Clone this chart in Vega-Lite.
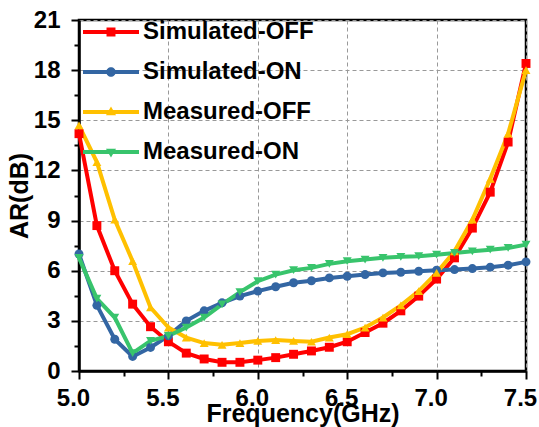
{
  "$schema": "https://vega.github.io/schema/vega-lite/v6.json",
  "width": 447,
  "height": 351,
  "autosize": "none",
  "padding": {"left": 79, "top": 20, "right": 13, "bottom": 56},
  "background": "white",
  "data": {"values": [
    {"f":5.0,"ar":14.2,"s":"Simulated-OFF"},{"f":5.1,"ar":8.7,"s":"Simulated-OFF"},{"f":5.2,"ar":6.0,"s":"Simulated-OFF"},{"f":5.3,"ar":4.0,"s":"Simulated-OFF"},{"f":5.4,"ar":2.65,"s":"Simulated-OFF"},{"f":5.5,"ar":1.75,"s":"Simulated-OFF"},{"f":5.6,"ar":1.07,"s":"Simulated-OFF"},{"f":5.7,"ar":0.72,"s":"Simulated-OFF"},{"f":5.8,"ar":0.52,"s":"Simulated-OFF"},{"f":5.9,"ar":0.52,"s":"Simulated-OFF"},{"f":6.0,"ar":0.65,"s":"Simulated-OFF"},{"f":6.1,"ar":0.8,"s":"Simulated-OFF"},{"f":6.2,"ar":1.0,"s":"Simulated-OFF"},{"f":6.3,"ar":1.2,"s":"Simulated-OFF"},{"f":6.4,"ar":1.42,"s":"Simulated-OFF"},{"f":6.5,"ar":1.75,"s":"Simulated-OFF"},{"f":6.6,"ar":2.3,"s":"Simulated-OFF"},{"f":6.7,"ar":2.86,"s":"Simulated-OFF"},{"f":6.8,"ar":3.6,"s":"Simulated-OFF"},{"f":6.9,"ar":4.48,"s":"Simulated-OFF"},{"f":7.0,"ar":5.5,"s":"Simulated-OFF"},{"f":7.1,"ar":6.77,"s":"Simulated-OFF"},{"f":7.2,"ar":8.55,"s":"Simulated-OFF"},{"f":7.3,"ar":10.7,"s":"Simulated-OFF"},{"f":7.4,"ar":13.7,"s":"Simulated-OFF"},{"f":7.5,"ar":18.4,"s":"Simulated-OFF"},
    {"f":5.0,"ar":7.0,"s":"Simulated-ON"},{"f":5.1,"ar":3.93,"s":"Simulated-ON"},{"f":5.2,"ar":1.9,"s":"Simulated-ON"},{"f":5.3,"ar":0.87,"s":"Simulated-ON"},{"f":5.4,"ar":1.41,"s":"Simulated-ON"},{"f":5.5,"ar":2.1,"s":"Simulated-ON"},{"f":5.6,"ar":3.0,"s":"Simulated-ON"},{"f":5.7,"ar":3.6,"s":"Simulated-ON"},{"f":5.8,"ar":4.08,"s":"Simulated-ON"},{"f":5.9,"ar":4.48,"s":"Simulated-ON"},{"f":6.0,"ar":4.78,"s":"Simulated-ON"},{"f":6.1,"ar":5.04,"s":"Simulated-ON"},{"f":6.2,"ar":5.28,"s":"Simulated-ON"},{"f":6.3,"ar":5.4,"s":"Simulated-ON"},{"f":6.4,"ar":5.57,"s":"Simulated-ON"},{"f":6.5,"ar":5.67,"s":"Simulated-ON"},{"f":6.6,"ar":5.77,"s":"Simulated-ON"},{"f":6.7,"ar":5.87,"s":"Simulated-ON"},{"f":6.8,"ar":5.91,"s":"Simulated-ON"},{"f":6.9,"ar":5.97,"s":"Simulated-ON"},{"f":7.0,"ar":6.03,"s":"Simulated-ON"},{"f":7.1,"ar":6.07,"s":"Simulated-ON"},{"f":7.2,"ar":6.13,"s":"Simulated-ON"},{"f":7.3,"ar":6.21,"s":"Simulated-ON"},{"f":7.4,"ar":6.33,"s":"Simulated-ON"},{"f":7.5,"ar":6.53,"s":"Simulated-ON"},
    {"f":5.0,"ar":14.7,"s":"Measured-OFF"},{"f":5.1,"ar":12.5,"s":"Measured-OFF"},{"f":5.2,"ar":9.05,"s":"Measured-OFF"},{"f":5.3,"ar":6.57,"s":"Measured-OFF"},{"f":5.4,"ar":3.8,"s":"Measured-OFF"},{"f":5.5,"ar":2.6,"s":"Measured-OFF"},{"f":5.6,"ar":2.0,"s":"Measured-OFF"},{"f":5.7,"ar":1.67,"s":"Measured-OFF"},{"f":5.8,"ar":1.57,"s":"Measured-OFF"},{"f":5.9,"ar":1.67,"s":"Measured-OFF"},{"f":6.0,"ar":1.8,"s":"Measured-OFF"},{"f":6.1,"ar":1.85,"s":"Measured-OFF"},{"f":6.2,"ar":1.8,"s":"Measured-OFF"},{"f":6.3,"ar":1.75,"s":"Measured-OFF"},{"f":6.4,"ar":2.0,"s":"Measured-OFF"},{"f":6.5,"ar":2.2,"s":"Measured-OFF"},{"f":6.6,"ar":2.6,"s":"Measured-OFF"},{"f":6.7,"ar":3.2,"s":"Measured-OFF"},{"f":6.8,"ar":3.93,"s":"Measured-OFF"},{"f":6.9,"ar":4.78,"s":"Measured-OFF"},{"f":7.0,"ar":5.87,"s":"Measured-OFF"},{"f":7.1,"ar":7.16,"s":"Measured-OFF"},{"f":7.2,"ar":9.05,"s":"Measured-OFF"},{"f":7.3,"ar":11.5,"s":"Measured-OFF"},{"f":7.4,"ar":14.2,"s":"Measured-OFF"},{"f":7.5,"ar":18.0,"s":"Measured-OFF"},
    {"f":5.0,"ar":6.77,"s":"Measured-ON"},{"f":5.1,"ar":4.33,"s":"Measured-ON"},{"f":5.2,"ar":3.2,"s":"Measured-ON"},{"f":5.3,"ar":1.07,"s":"Measured-ON"},{"f":5.4,"ar":1.8,"s":"Measured-ON"},{"f":5.5,"ar":2.1,"s":"Measured-ON"},{"f":5.6,"ar":2.6,"s":"Measured-ON"},{"f":5.7,"ar":3.2,"s":"Measured-ON"},{"f":5.8,"ar":3.99,"s":"Measured-ON"},{"f":5.9,"ar":4.72,"s":"Measured-ON"},{"f":6.0,"ar":5.37,"s":"Measured-ON"},{"f":6.1,"ar":5.77,"s":"Measured-ON"},{"f":6.2,"ar":6.03,"s":"Measured-ON"},{"f":6.3,"ar":6.17,"s":"Measured-ON"},{"f":6.4,"ar":6.41,"s":"Measured-ON"},{"f":6.5,"ar":6.57,"s":"Measured-ON"},{"f":6.6,"ar":6.67,"s":"Measured-ON"},{"f":6.7,"ar":6.77,"s":"Measured-ON"},{"f":6.8,"ar":6.83,"s":"Measured-ON"},{"f":6.9,"ar":6.87,"s":"Measured-ON"},{"f":7.0,"ar":6.96,"s":"Measured-ON"},{"f":7.1,"ar":7.06,"s":"Measured-ON"},{"f":7.2,"ar":7.16,"s":"Measured-ON"},{"f":7.3,"ar":7.26,"s":"Measured-ON"},{"f":7.4,"ar":7.36,"s":"Measured-ON"},{"f":7.5,"ar":7.56,"s":"Measured-ON"}
  ]},
  "encoding": {
    "x": {"field": "f", "type": "quantitative",
      "scale": {"domain": [5, 7.5], "nice": false, "zero": false},
      "axis": {"title": "Frequency(GHz)", "values": [5,5.25,5.5,5.75,6,6.25,6.5,6.75,7,7.25,7.5],
        "labelExpr": "abs(datum.value*2 - round(datum.value*2)) < 0.001 ? format(datum.value, '.1f') : ''",
        "tickSize": {"condition": {"test": "abs(datum.value*2 - round(datum.value*2)) < 0.001", "value": 8}, "value": 5},
        "gridOpacity": {"condition": {"test": "abs(datum.value*2 - round(datum.value*2)) < 0.001", "value": 1}, "value": 0},
        "labelOffset": -6, "labelPadding": 7, "titlePadding": -9, "labelFlush": false}},
    "y": {"field": "ar", "type": "quantitative",
      "scale": {"domain": [0, 21], "nice": false},
      "axis": {"title": "AR(dB)", "values": [0,1.5,3,4.5,6,7.5,9,10.5,12,13.5,15,16.5,18,19.5,21],
        "labelExpr": "datum.value % 3 == 0 ? datum.label : ''",
        "tickSize": {"condition": {"test": "datum.value % 3 == 0", "value": 8}, "value": 5},
        "gridOpacity": {"condition": {"test": "datum.value % 3 == 0", "value": 1}, "value": 0},
        "labelPadding": 11, "titlePadding": 1, "labelFlush": false}}
  },
  "layer": [
    {"mark": {"type": "line", "strokeWidth": 4},
     "encoding": {"color": {"field": "s", "type": "nominal",
       "scale": {"domain": ["Simulated-OFF","Simulated-ON","Measured-OFF","Measured-ON"], "range": ["#FF0000","#3366A3","#FFC000","#38C46C"]},
       "legend": null}}},
    {"mark": {"type": "point", "filled": true, "opacity": 1, "size": 80},
     "encoding": {
       "color": {"field": "s", "type": "nominal",
         "scale": {"domain": ["Simulated-OFF","Simulated-ON","Measured-OFF","Measured-ON"], "range": ["#FF0000","#3366A3","#FFC000","#38C46C"]},
         "legend": null},
       "shape": {"field": "s", "type": "nominal",
         "scale": {"domain": ["Simulated-OFF","Simulated-ON","Measured-OFF","Measured-ON"], "range": ["square","circle","triangle-up","triangle-down"]},
         "legend": null}}},
    {"transform": [{"filter": "datum.f > 100"}],
     "mark": {"type": "point", "filled": true, "opacity": 1},
     "encoding": {
       "color": {"field": "s", "type": "nominal",
         "scale": {"domain": ["Simulated-OFF","Simulated-ON","Measured-OFF","Measured-ON"], "range": ["#FF0000","#3366A3","#FFC000","#38C46C"]},
         "legend": {"orient": "none", "legendX": 4, "legendY": -16, "title": null,
           "labelFont": "Liberation Sans", "labelFontSize": 24, "labelFontWeight": "bold", "labelColor": "black",
           "symbolSize": 3136, "labelOffset": 4, "rowPadding": -26, "labelLimit": 400, "symbolStrokeWidth": 0}},
       "shape": {"field": "s", "type": "nominal",
         "scale": {"domain": ["Simulated-OFF","Simulated-ON","Measured-OFF","Measured-ON"],
           "range": [
             "M-1,-0.07L1,-0.07L1,0.07L-1,0.07ZM-0.16,-0.16L0.16,-0.16L0.16,0.16L-0.16,0.16Z",
             "M-1,-0.07L1,-0.07L1,0.07L-1,0.07ZM-0.17,0A0.17,0.17 0 1,1 0.17,0A0.17,0.17 0 1,1 -0.17,0Z",
             "M-1,-0.07L1,-0.07L1,0.07L-1,0.07ZM0,-0.2L0.18,0.12L-0.18,0.12Z",
             "M-1,-0.07L1,-0.07L1,0.07L-1,0.07ZM-0.18,-0.12L0.18,-0.12L0,0.2Z"]},
         "legend": {"orient": "none", "legendX": 4, "legendY": -16, "title": null,
           "labelFont": "Liberation Sans", "labelFontSize": 24, "labelFontWeight": "bold", "labelColor": "black",
           "symbolSize": 3136, "labelOffset": 4, "rowPadding": -26, "labelLimit": 400, "symbolStrokeWidth": 0}}}}
  ],
  "resolve": {"scale": {"shape": "independent", "color": "independent"}},
  "config": {
    "view": {"stroke": "black", "strokeWidth": 2.5},
    "axis": {"domainColor": "black", "domainWidth": 2.5, "tickColor": "black", "tickWidth": 2,
      "labelFont": "Liberation Sans", "labelFontSize": 24, "labelFontWeight": "bold", "labelColor": "black",
      "titleFont": "Liberation Sans", "titleFontSize": 25, "titleFontWeight": "bold", "titleColor": "black",
      "gridColor": "#999999", "gridDash": [4, 3], "gridWidth": 1}
  }
}
